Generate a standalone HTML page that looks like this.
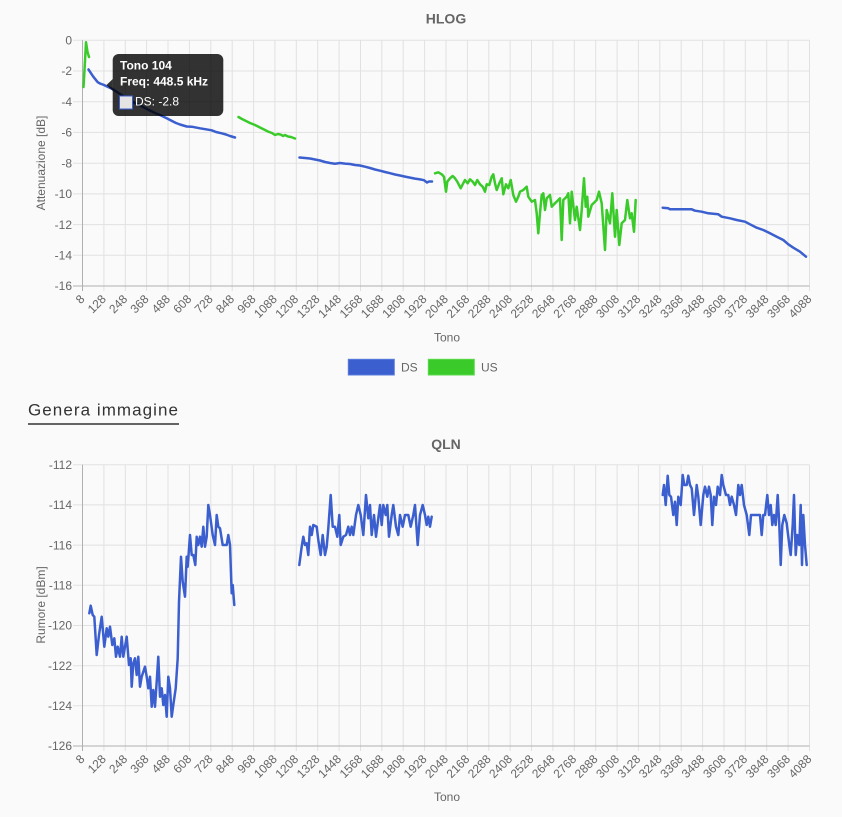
<!DOCTYPE html>
<html><head><meta charset="utf-8"><style>
html,body{margin:0;padding:0;background:#fafafa;}
body{width:842px;height:817px;overflow:hidden;}
svg{display:block;font-family:"Liberation Sans",Arial,sans-serif;}
.g{stroke:#e1e1e1;stroke-width:1;fill:none;}
.ax{stroke:#b0b0b0;stroke-width:1;fill:none;}
.t{fill:#666;font-size:12px;}
.xl{fill:#666;font-size:12px;text-anchor:end;}
.yl{fill:#666;font-size:12px;text-anchor:end;}
.ds{stroke:#3b5fce;stroke-width:2.5;fill:none;stroke-linejoin:round;stroke-linecap:round;}
.us{stroke:#3acb2a;stroke-width:2.5;fill:none;stroke-linejoin:round;stroke-linecap:round;}
</style></head><body>
<svg width="842" height="817" viewBox="0 0 842 817" xmlns="http://www.w3.org/2000/svg">
<rect x="0" y="0" width="842" height="817" fill="#fafafa"/>

<!-- ================= HLOG ================= -->
<text x="446" y="23.5" text-anchor="middle" font-size="14" font-weight="bold" fill="#666">HLOG</text>
<g class="g">
<line x1="73" y1="40.3" x2="809.5" y2="40.3"/>
<line x1="73" y1="71.0" x2="809.5" y2="71.0"/>
<line x1="73" y1="101.7" x2="809.5" y2="101.7"/>
<line x1="73" y1="132.4" x2="809.5" y2="132.4"/>
<line x1="73" y1="163.2" x2="809.5" y2="163.2"/>
<line x1="73" y1="193.9" x2="809.5" y2="193.9"/>
<line x1="73" y1="224.6" x2="809.5" y2="224.6"/>
<line x1="73" y1="255.3" x2="809.5" y2="255.3"/>
<line x1="103.9" y1="40.3" x2="103.9" y2="291"/>
<line x1="125.3" y1="40.3" x2="125.3" y2="291"/>
<line x1="146.6" y1="40.3" x2="146.6" y2="291"/>
<line x1="168.0" y1="40.3" x2="168.0" y2="291"/>
<line x1="189.4" y1="40.3" x2="189.4" y2="291"/>
<line x1="210.8" y1="40.3" x2="210.8" y2="291"/>
<line x1="232.2" y1="40.3" x2="232.2" y2="291"/>
<line x1="253.6" y1="40.3" x2="253.6" y2="291"/>
<line x1="274.9" y1="40.3" x2="274.9" y2="291"/>
<line x1="296.3" y1="40.3" x2="296.3" y2="291"/>
<line x1="317.7" y1="40.3" x2="317.7" y2="291"/>
<line x1="339.1" y1="40.3" x2="339.1" y2="291"/>
<line x1="360.5" y1="40.3" x2="360.5" y2="291"/>
<line x1="381.8" y1="40.3" x2="381.8" y2="291"/>
<line x1="403.2" y1="40.3" x2="403.2" y2="291"/>
<line x1="424.6" y1="40.3" x2="424.6" y2="291"/>
<line x1="446.0" y1="40.3" x2="446.0" y2="291"/>
<line x1="467.4" y1="40.3" x2="467.4" y2="291"/>
<line x1="488.8" y1="40.3" x2="488.8" y2="291"/>
<line x1="510.1" y1="40.3" x2="510.1" y2="291"/>
<line x1="531.5" y1="40.3" x2="531.5" y2="291"/>
<line x1="552.9" y1="40.3" x2="552.9" y2="291"/>
<line x1="574.3" y1="40.3" x2="574.3" y2="291"/>
<line x1="595.7" y1="40.3" x2="595.7" y2="291"/>
<line x1="617.1" y1="40.3" x2="617.1" y2="291"/>
<line x1="638.4" y1="40.3" x2="638.4" y2="291"/>
<line x1="659.8" y1="40.3" x2="659.8" y2="291"/>
<line x1="681.2" y1="40.3" x2="681.2" y2="291"/>
<line x1="702.6" y1="40.3" x2="702.6" y2="291"/>
<line x1="724.0" y1="40.3" x2="724.0" y2="291"/>
<line x1="745.3" y1="40.3" x2="745.3" y2="291"/>
<line x1="766.7" y1="40.3" x2="766.7" y2="291"/>
<line x1="788.1" y1="40.3" x2="788.1" y2="291"/>
<line x1="809.5" y1="40.3" x2="809.5" y2="291"/>
</g>
<g class="ax">
<line x1="82.5" y1="40.3" x2="82.5" y2="291"/>
<line x1="73" y1="286" x2="809.5" y2="286"/>
</g>
<g class="yl">
<text x="72" y="44.5">0</text>
<text x="72" y="75.2">-2</text>
<text x="72" y="105.9">-4</text>
<text x="72" y="136.6">-6</text>
<text x="72" y="167.4">-8</text>
<text x="72" y="198.1">-10</text>
<text x="72" y="228.8">-12</text>
<text x="72" y="259.5">-14</text>
<text x="72" y="290.2">-16</text>
</g>
<text class="t" transform="translate(45,163) rotate(-90)" text-anchor="middle">Attenuazione [dB]</text>
<g class="xl">
<text transform="translate(82.5,297) rotate(-45)" dy="4">8</text>
<text transform="translate(103.9,297) rotate(-45)" dy="4">128</text>
<text transform="translate(125.3,297) rotate(-45)" dy="4">248</text>
<text transform="translate(146.6,297) rotate(-45)" dy="4">368</text>
<text transform="translate(168.0,297) rotate(-45)" dy="4">488</text>
<text transform="translate(189.4,297) rotate(-45)" dy="4">608</text>
<text transform="translate(210.8,297) rotate(-45)" dy="4">728</text>
<text transform="translate(232.2,297) rotate(-45)" dy="4">848</text>
<text transform="translate(253.6,297) rotate(-45)" dy="4">968</text>
<text transform="translate(274.9,297) rotate(-45)" dy="4">1088</text>
<text transform="translate(296.3,297) rotate(-45)" dy="4">1208</text>
<text transform="translate(317.7,297) rotate(-45)" dy="4">1328</text>
<text transform="translate(339.1,297) rotate(-45)" dy="4">1448</text>
<text transform="translate(360.5,297) rotate(-45)" dy="4">1568</text>
<text transform="translate(381.8,297) rotate(-45)" dy="4">1688</text>
<text transform="translate(403.2,297) rotate(-45)" dy="4">1808</text>
<text transform="translate(424.6,297) rotate(-45)" dy="4">1928</text>
<text transform="translate(446.0,297) rotate(-45)" dy="4">2048</text>
<text transform="translate(467.4,297) rotate(-45)" dy="4">2168</text>
<text transform="translate(488.8,297) rotate(-45)" dy="4">2288</text>
<text transform="translate(510.1,297) rotate(-45)" dy="4">2408</text>
<text transform="translate(531.5,297) rotate(-45)" dy="4">2528</text>
<text transform="translate(552.9,297) rotate(-45)" dy="4">2648</text>
<text transform="translate(574.3,297) rotate(-45)" dy="4">2768</text>
<text transform="translate(595.7,297) rotate(-45)" dy="4">2888</text>
<text transform="translate(617.1,297) rotate(-45)" dy="4">3008</text>
<text transform="translate(638.4,297) rotate(-45)" dy="4">3128</text>
<text transform="translate(659.8,297) rotate(-45)" dy="4">3248</text>
<text transform="translate(681.2,297) rotate(-45)" dy="4">3368</text>
<text transform="translate(702.6,297) rotate(-45)" dy="4">3488</text>
<text transform="translate(724.0,297) rotate(-45)" dy="4">3608</text>
<text transform="translate(745.3,297) rotate(-45)" dy="4">3728</text>
<text transform="translate(766.7,297) rotate(-45)" dy="4">3848</text>
<text transform="translate(788.1,297) rotate(-45)" dy="4">3968</text>
<text transform="translate(809.5,297) rotate(-45)" dy="4">4088</text>
</g>
<text class="t" x="447" y="341.5" text-anchor="middle">Tono</text>

<!-- HLOG series -->
<polyline class="us" points="83.5,87 84.5,70 86,42.3 87.5,52 89,57"/>
<polyline class="ds" points="88.5,69.5 91.7,74.3 93.3,76.7 97.7,82.2 100,83.5 104,85 107,86.5 113,89.3 120,94 126,98 133,102 140,105.5 148,109.5 155,113 160,115 166.7,118.3 172,121 176,123 180,124.5 186.7,126.5 191.7,126.7 200,128.3 206,129.3 211.7,130.3 216,132 221.7,133.3 226,134.5 230,136 235,137.5"/>
<polyline class="us" points="238.5,117 242,119 246,121 250,123 255,125 260,127.5 265,130 268.3,131.7 272,133 275,135 278,134 281,134.7 283,136 285,135 288,136.5 291,137 295,138.5"/>
<polyline class="ds" points="299.5,157.5 305,158 310,158.5 315,159.5 320,160.5 325,162 330,163 335,163.7 340,163 345,163.6 350,164 355,165 360,165.5 365,166.7 370,168 375,169.5 380,170.7 385,172 390,173.2 395,174.5 400,175.5 405,176.6 410,177.6 415,178.6 420,179.4 424,180.2 427,182.5 429,181.5 432,181.5"/>
<polyline class="us" points="435,173.3 438.3,172.3 441.7,174.3 444,176.7 446,191.7 447.3,181.7 450,178.3 452.7,176 455,178.3 457.3,181.7 460.7,188.3 462.7,184.3 465,180 467.7,183.3 470,179.3 472.7,181.7 475,185 477.3,180 480,184.3 482.7,186.7 485,191.7 486.7,184.3 489.3,185 491.7,176.7 493.3,174.3 495,183.3 496.7,190 499.3,183.3 501.7,178.3 503.3,194.3 506,184.3 508.3,188.3 510.7,180 513.3,195 516,201.7 518.3,196.7 520,191.7 523.3,190 526.7,186.7 528.3,196.7 531.7,201.7 535,200 536.7,213.3 538.3,233.3 540,213 541.7,195 543.3,193.3 545,210 546.7,198.3 550,195 551.7,206.7 555,203.3 558.3,200 560,198.3 561.7,240 563.3,200 566.7,196.7 568.3,193.3 570,223.3 571.7,191.7 575,220 576.7,206.7 580,230 581.7,210 584,178.3 585.7,206.7 587.3,196.7 588.3,216.7 591.7,205 595,201.7 596.7,200 599,191.7 601.7,203.3 605,250 606.7,210 610,223.3 612.3,193.3 615,236.7 616.7,210 619.3,245 621.7,223.3 625,220 627.3,200 630,218.3 631.7,213.3 634,231.7 635.7,200"/>
<polyline class="ds" points="662.7,207.7 668.3,208.3 670,209.3 691.7,209.3 695,210.7 701.7,211.7 708.3,213.3 718.3,214.3 721.7,216.7 730,218.3 736.7,220 745,221.7 750,224.3 756.7,227.7 763.3,230 770,233.3 776.7,236.7 783.3,240 788.3,244.3 793.3,247.7 800,251.7 806,256.7"/>

<!-- Tooltip -->
<rect x="112.7" y="54" width="110.6" height="62" rx="6" ry="6" fill="rgba(0,0,0,0.8)"/>
<polygon points="112.8,79 106.5,85 112.8,91" fill="rgba(0,0,0,0.8)"/>
<text x="120" y="69.5" fill="#fff" font-size="12" font-weight="bold">Tono 104</text>
<text x="120" y="85.5" fill="#fff" font-size="12" font-weight="bold">Freq: 448.5 kHz</text>
<rect x="119.5" y="96" width="13" height="13" fill="#e4e4e4" stroke="#3b5fce" stroke-width="1"/>
<text x="135" y="105.7" fill="#fff" font-size="12">DS: -2.8</text>

<!-- Legend -->
<rect x="348.3" y="359.3" width="46" height="15.7" fill="#3b5fce" stroke="#5a7bdc" stroke-width="1"/>
<text class="t" x="401" y="371.5">DS</text>
<rect x="428.3" y="359.3" width="46" height="15.7" fill="#3acb2a" stroke="#5ad94c" stroke-width="1"/>
<text class="t" x="481" y="371.5">US</text>

<!-- Genera immagine -->
<text x="28" y="415.7" font-size="17" fill="#333" textLength="150" lengthAdjust="spacing">Genera immagine</text>
<line x1="28" y1="424" x2="179" y2="424" stroke="#333" stroke-width="1.5"/>

<!-- ================= QLN ================= -->
<text x="446" y="449" text-anchor="middle" font-size="14" font-weight="bold" fill="#666">QLN</text>
<g class="g">
<line x1="73" y1="464.7" x2="809.5" y2="464.7"/>
<line x1="73" y1="504.9" x2="809.5" y2="504.9"/>
<line x1="73" y1="545.1" x2="809.5" y2="545.1"/>
<line x1="73" y1="585.3" x2="809.5" y2="585.3"/>
<line x1="73" y1="625.5" x2="809.5" y2="625.5"/>
<line x1="73" y1="665.7" x2="809.5" y2="665.7"/>
<line x1="73" y1="705.8" x2="809.5" y2="705.8"/>
<line x1="103.9" y1="464.7" x2="103.9" y2="751"/>
<line x1="125.3" y1="464.7" x2="125.3" y2="751"/>
<line x1="146.6" y1="464.7" x2="146.6" y2="751"/>
<line x1="168.0" y1="464.7" x2="168.0" y2="751"/>
<line x1="189.4" y1="464.7" x2="189.4" y2="751"/>
<line x1="210.8" y1="464.7" x2="210.8" y2="751"/>
<line x1="232.2" y1="464.7" x2="232.2" y2="751"/>
<line x1="253.6" y1="464.7" x2="253.6" y2="751"/>
<line x1="274.9" y1="464.7" x2="274.9" y2="751"/>
<line x1="296.3" y1="464.7" x2="296.3" y2="751"/>
<line x1="317.7" y1="464.7" x2="317.7" y2="751"/>
<line x1="339.1" y1="464.7" x2="339.1" y2="751"/>
<line x1="360.5" y1="464.7" x2="360.5" y2="751"/>
<line x1="381.8" y1="464.7" x2="381.8" y2="751"/>
<line x1="403.2" y1="464.7" x2="403.2" y2="751"/>
<line x1="424.6" y1="464.7" x2="424.6" y2="751"/>
<line x1="446.0" y1="464.7" x2="446.0" y2="751"/>
<line x1="467.4" y1="464.7" x2="467.4" y2="751"/>
<line x1="488.8" y1="464.7" x2="488.8" y2="751"/>
<line x1="510.1" y1="464.7" x2="510.1" y2="751"/>
<line x1="531.5" y1="464.7" x2="531.5" y2="751"/>
<line x1="552.9" y1="464.7" x2="552.9" y2="751"/>
<line x1="574.3" y1="464.7" x2="574.3" y2="751"/>
<line x1="595.7" y1="464.7" x2="595.7" y2="751"/>
<line x1="617.1" y1="464.7" x2="617.1" y2="751"/>
<line x1="638.4" y1="464.7" x2="638.4" y2="751"/>
<line x1="659.8" y1="464.7" x2="659.8" y2="751"/>
<line x1="681.2" y1="464.7" x2="681.2" y2="751"/>
<line x1="702.6" y1="464.7" x2="702.6" y2="751"/>
<line x1="724.0" y1="464.7" x2="724.0" y2="751"/>
<line x1="745.3" y1="464.7" x2="745.3" y2="751"/>
<line x1="766.7" y1="464.7" x2="766.7" y2="751"/>
<line x1="788.1" y1="464.7" x2="788.1" y2="751"/>
<line x1="809.5" y1="464.7" x2="809.5" y2="751"/>
</g>
<g class="ax">
<line x1="82.5" y1="464.7" x2="82.5" y2="751"/>
<line x1="73" y1="746" x2="809.5" y2="746"/>
</g>
<g class="yl">
<text x="72" y="468.9">-112</text>
<text x="72" y="509.1">-114</text>
<text x="72" y="549.3">-116</text>
<text x="72" y="589.5">-118</text>
<text x="72" y="629.7">-120</text>
<text x="72" y="669.9">-122</text>
<text x="72" y="710.0">-124</text>
<text x="72" y="750.2">-126</text>
</g>
<text class="t" transform="translate(45,605) rotate(-90)" text-anchor="middle">Rumore [dBm]</text>
<g class="xl">
<text transform="translate(82.5,757) rotate(-45)" dy="4">8</text>
<text transform="translate(103.9,757) rotate(-45)" dy="4">128</text>
<text transform="translate(125.3,757) rotate(-45)" dy="4">248</text>
<text transform="translate(146.6,757) rotate(-45)" dy="4">368</text>
<text transform="translate(168.0,757) rotate(-45)" dy="4">488</text>
<text transform="translate(189.4,757) rotate(-45)" dy="4">608</text>
<text transform="translate(210.8,757) rotate(-45)" dy="4">728</text>
<text transform="translate(232.2,757) rotate(-45)" dy="4">848</text>
<text transform="translate(253.6,757) rotate(-45)" dy="4">968</text>
<text transform="translate(274.9,757) rotate(-45)" dy="4">1088</text>
<text transform="translate(296.3,757) rotate(-45)" dy="4">1208</text>
<text transform="translate(317.7,757) rotate(-45)" dy="4">1328</text>
<text transform="translate(339.1,757) rotate(-45)" dy="4">1448</text>
<text transform="translate(360.5,757) rotate(-45)" dy="4">1568</text>
<text transform="translate(381.8,757) rotate(-45)" dy="4">1688</text>
<text transform="translate(403.2,757) rotate(-45)" dy="4">1808</text>
<text transform="translate(424.6,757) rotate(-45)" dy="4">1928</text>
<text transform="translate(446.0,757) rotate(-45)" dy="4">2048</text>
<text transform="translate(467.4,757) rotate(-45)" dy="4">2168</text>
<text transform="translate(488.8,757) rotate(-45)" dy="4">2288</text>
<text transform="translate(510.1,757) rotate(-45)" dy="4">2408</text>
<text transform="translate(531.5,757) rotate(-45)" dy="4">2528</text>
<text transform="translate(552.9,757) rotate(-45)" dy="4">2648</text>
<text transform="translate(574.3,757) rotate(-45)" dy="4">2768</text>
<text transform="translate(595.7,757) rotate(-45)" dy="4">2888</text>
<text transform="translate(617.1,757) rotate(-45)" dy="4">3008</text>
<text transform="translate(638.4,757) rotate(-45)" dy="4">3128</text>
<text transform="translate(659.8,757) rotate(-45)" dy="4">3248</text>
<text transform="translate(681.2,757) rotate(-45)" dy="4">3368</text>
<text transform="translate(702.6,757) rotate(-45)" dy="4">3488</text>
<text transform="translate(724.0,757) rotate(-45)" dy="4">3608</text>
<text transform="translate(745.3,757) rotate(-45)" dy="4">3728</text>
<text transform="translate(766.7,757) rotate(-45)" dy="4">3848</text>
<text transform="translate(788.1,757) rotate(-45)" dy="4">3968</text>
<text transform="translate(809.5,757) rotate(-45)" dy="4">4088</text>
</g>
<text class="t" x="447" y="801" text-anchor="middle">Tono</text>

<!-- QLN series -->
<polyline class="ds" points="89.3,613.3 90.7,605.7 92.7,615 94.3,616.7 96.7,655 99,635 101.7,616.7 104.3,646.7 106.7,628.3 108.3,636.7 110,626.7 112.3,645 114.3,638.3 116,656.7 117.7,646.7 120,656.7 121.7,636.7 123.3,656.7 126.7,636.7 129,665 130.7,658.3 131.7,686.7 133.3,663.3 135,658.3 136.7,675 138.3,656.7 140,686.7 141.7,676.7 145,666.7 146.7,676.7 148.3,688.3 150,676.7 151.7,706.7 153.3,690 155,706.7 156.7,681.7 158.3,656.7 160,696.7 161.7,688.3 163.3,705 165,695 166.7,716.7 168.3,676.7 170,688.3 171.7,716.7 173.3,705 175.7,688.3 177.7,658.3 179,601.7 181,556.7 182.7,581.7 185,596.7 186.7,556.7 187.7,566.7 190,535 191.7,555 193.3,555 195.3,565 196.7,536.7 198.3,545 200,536.7 201.7,546.7 203.3,526.7 205,546.7 206.7,536.7 208.3,505 210,515 212.7,535 215,545 216.7,515 218.3,526.7 220,528.3 222.7,545 226.7,545 228.3,535 230,545 231.7,593.3 232.7,585 234.3,605"/>
<polyline class="ds" points="299.3,565 301.7,546.7 303.3,536.7 305,545 306.7,543.3 308.3,555 310,526.7 311.7,535 313.3,525 316.7,526.7 318.3,540 320.7,555 322.7,535 325,555 326.7,546.7 328.3,528.3 330.7,495 332.7,526.7 335,526.7 337.3,536.7 339.3,515 340.7,545 343.3,536.7 346,535 348.3,526.7 350,535 351.7,526.7 353.3,535 356,515 358.3,505 360.7,515 363.3,535 366,495 368.3,518.3 370,505 371.7,535 374,515 376,536.7 378.3,518.3 380,505 381.7,525 383.3,505 385.7,515 387.3,505 389,536.7 391.7,515 393.3,505 396,526.7 398.3,535 400,515 402.7,526.7 405,515 408.3,515 410.7,526.7 413.3,515 415,505 417.7,545 420,515 422.7,505 425,515 426.7,525 428.3,516.7 430,526.7 431.7,516.7"/>
<polyline class="ds" points="662.7,495 664,485 665.7,505 667.7,475.7 669.3,495 671,496.7 673.3,515 675,501.7 676.7,525 678.3,496.7 680.7,505 682.7,475 684.3,485 686.7,485 688.3,475.7 690,485 691.7,488.3 694,515 696.7,485 698.3,496.7 700.7,525 703.3,495 705,486.7 707.3,496.7 709,486.7 710.7,495 712.3,525 714,496.7 716,505 717.7,486.7 720,495 721.7,475 723.3,485 726,495 728.3,495 730,505 731.7,496.7 734,505 736,515 738.3,485 740,495 741.7,485 744,505 746.7,515 749.3,535 751,515 760,515 761.7,535 763.3,515 765,515 767.3,495 769,515 770.7,505 772.3,525 774,515 775.7,525 777.7,495 779.3,525 780.7,565 782.3,525 784.3,515 786.7,523.3 789.3,545 790.7,555 792.7,525 794,495 795.7,555 797.3,535 799.3,545 800.7,505 802,565 803.3,515 805,545 806.7,565"/>
</svg>
</body></html>
